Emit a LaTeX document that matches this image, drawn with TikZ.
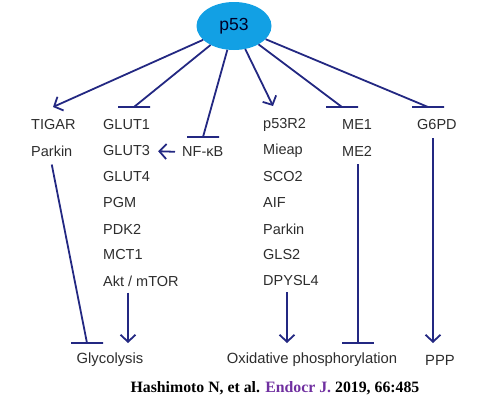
\documentclass[tikz,border=0pt]{standalone}
\usepackage{fontspec}
\setmainfont{Liberation Sans}
\newfontfamily\citefont{Liberation Serif}
\usepackage{xcolor}
\usepackage{tikz}
\usetikzlibrary{arrows.meta,positioning,shapes.geometric}

\definecolor{navy}{RGB}{35,40,130}
\definecolor{p53blue}{RGB}{18,160,228}
\definecolor{genegray}{RGB}{45,45,45}
\definecolor{journal}{RGB}{112,48,160}

\begin{document}
\begin{tikzpicture}[
    x=1pt, y=-1pt,
    hub/.style={
        ellipse,
        fill=p53blue,
        minimum width=75pt,
        minimum height=48pt,
        inner sep=0pt,
        font=\fontsize{17.5}{20}\selectfont,
        text=black!85!blue
    },
    gene/.style={
        anchor=west,
        inner sep=0pt,
        font=\fontsize{14.5}{17}\selectfont,
        text=genegray
    },
    fate/.style={
        inner sep=0pt,
        font=\fontsize{14.8}{17}\selectfont,
        text=genegray
    },
    act/.style={-{Straight Barb[length=7pt,width=15pt,line width=1.8pt]}, line width=1.8pt, draw=navy},
    inhib/.style={line width=1.8pt, draw=navy,
        to path={-- (\tikztotarget) ++(-16pt,0) -- ++(32pt,0)}}
]
\useasboundingbox (0,0) rectangle (500,405);

\node[hub] (p53) at (234,26) {p53};

% targets
\node[gene] (tigar) at (31,125) {TIGAR};
\node[gene, below=26pt of tigar.west, anchor=west] (parkinA) {Parkin};

\node[gene] (glut1) at (103,125) {GLUT1};
\node[gene, below=26pt of glut1.west, anchor=west] (glut3) {GLUT3};
\node[gene, below=26pt of glut3.west, anchor=west] (glut4) {GLUT4};
\node[gene, below=26pt of glut4.west, anchor=west] (pgm) {PGM};
\node[gene, below=26pt of pgm.west, anchor=west] (pdk2) {PDK2};
\node[gene, below=26pt of pdk2.west, anchor=west] (mct1) {MCT1};
\node[gene, below=26pt of mct1.west, anchor=west] (akt) {Akt / mTOR};

\node[gene] (nfkb) at (182,152) {NF-κB};

\node[gene] (p53r2) at (263,125) {p53R2};
\node[gene, below=26pt of p53r2.west, anchor=west] (mieap) {Mieap};
\node[gene, below=26pt of mieap.west, anchor=west] (sco2) {SCO2};
\node[gene, below=26pt of sco2.west, anchor=west] (aif) {AIF};
\node[gene, below=26pt of aif.west, anchor=west] (parkinB) {Parkin};
\node[gene, below=26pt of parkinB.west, anchor=west] (gls2) {GLS2};
\node[gene, below=26pt of gls2.west, anchor=west] (dpysl4) {DPYSL4};

\node[gene] (me1) at (342,125) {ME1};
\node[gene, below=26pt of me1.west, anchor=west] (me2) {ME2};

\node[gene] (g6pd) at (417,125) {G6PD};

% metabolic outputs
\node[fate] (glyco) at (110,360) {Glycolysis};
\node[fate] (oxphos) at (312,360) {Oxidative phosphorylation};
\node[fate] (ppp) at (440,360) {PPP};

\node[font=\citefont\bfseries\fontsize{15.8}{18}\selectfont, inner sep=0pt] (cite) at (275,388)
    {Hashimoto N, et al. \textcolor{journal}{Endocr J.} 2019, 66:485};

% connector ends
\coordinate (tigarIn) at (53,107);
\coordinate (glutIn) at (134,107);
\coordinate (nfkbIn) at (203,137);
\coordinate (p53r2In) at (273,106);
\coordinate (meIn) at (342,107);
\coordinate (g6pdIn) at (428,107);
\coordinate (parkinGlyco) at (87,343);
\coordinate (aktGlyco) at (128,343);
\coordinate (dpyslOx) at (287,343);
\coordinate (meOx) at (358,343);
\coordinate (g6pdPPP) at (433,343);

\draw[act] (p53) -- (tigarIn);
\draw[inhib] (p53) to (glutIn);
\draw[inhib] (p53) to (nfkbIn);
\draw[act] (p53) -- (p53r2In);
\draw[inhib] (p53) to (meIn);
\draw[inhib] (p53) to (g6pdIn);

\draw[act, shorten <=7pt, shorten >=8pt] (nfkb.west) -- (glut3.east);

\draw[inhib] (parkinA.south) ++(0,8) to (parkinGlyco);
\draw[act, shorten <=6pt] (akt.south -| aktGlyco) -- (aktGlyco);
\draw[act, shorten <=6pt] (dpysl4.south -| dpyslOx) -- (dpyslOx);
\draw[inhib] (me2.south -| meOx) ++(0,8) to (meOx);
\draw[act, shorten <=8pt] (g6pd.south -| g6pdPPP) -- (g6pdPPP);
\end{tikzpicture}
\end{document}
